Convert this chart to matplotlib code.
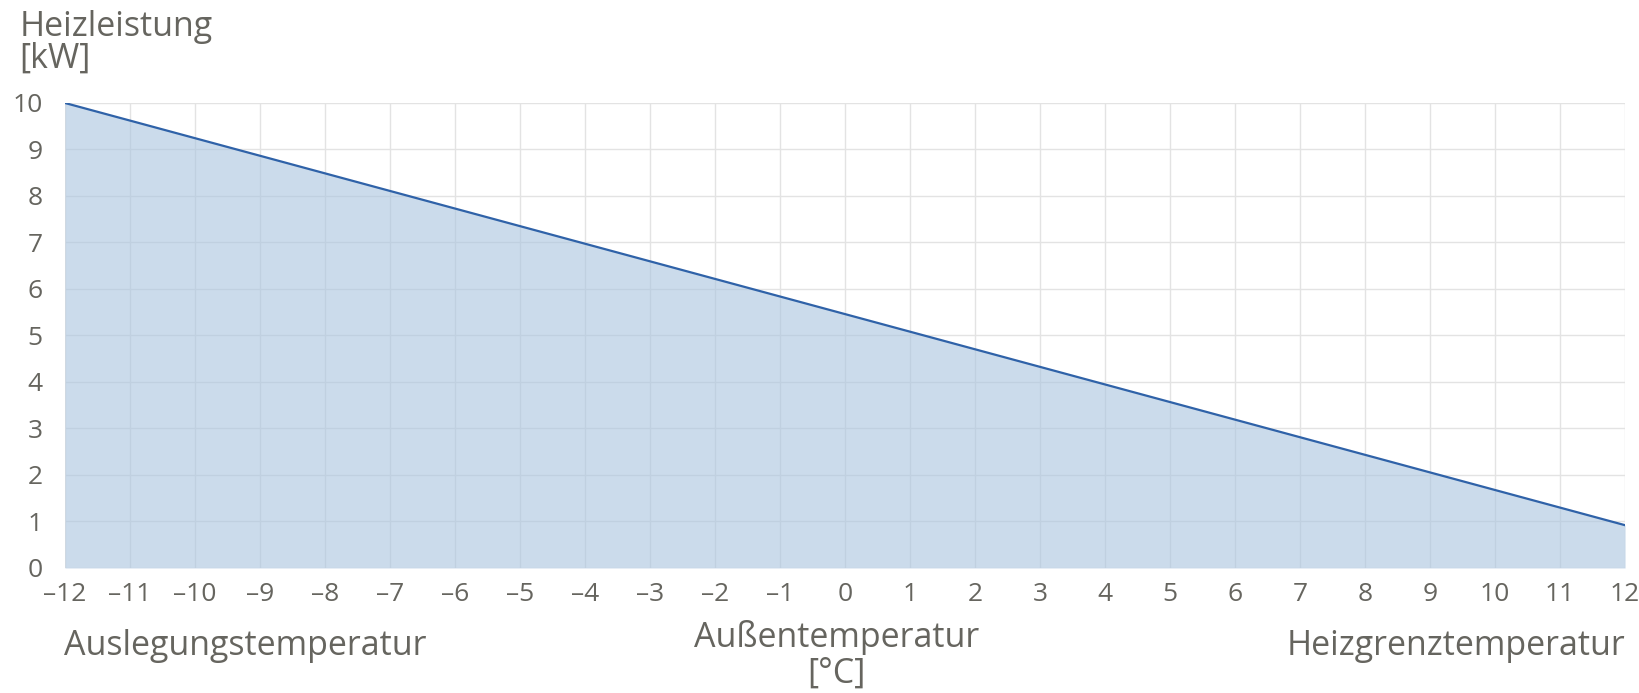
import matplotlib
matplotlib.use("Agg")
import matplotlib.pyplot as plt

plt.rcParams['font.family'] = ['Open Sans', 'DejaVu Sans']

# Heizleistung über Außentemperatur (lineare Heizkurve)
temps = [-12, 12]
power = [10.0, 0.92]
x_ticks = list(range(-12, 13))
y_ticks = list(range(0, 11))

text_color = '#66655f'
line_color = '#2f62a8'
fill_color = '#a9c4df'
grid_color = '#e3e3e3'

fig = plt.figure(figsize=(16.4, 6.93), dpi=100)
ax = fig.add_axes([0.0396, 0.1804, 0.9513, 0.671])

ax.fill_between(temps, power, 0, color=fill_color, alpha=0.6, lw=0, zorder=2)
ax.plot(temps, power, color=line_color, lw=1.6, zorder=3)

ax.set_xlim(-12, 12)
ax.set_ylim(0, 10)
ax.set_xticks(x_ticks)
ax.set_yticks(y_ticks)
ax.set_xticklabels([str(t).replace('-', '\u2013') for t in x_ticks])
ax.grid(True, color=grid_color, lw=1.0, zorder=1)
ax.set_axisbelow(True)
for s in ax.spines.values():
    s.set_visible(False)
ax.tick_params(axis='both', length=0, labelsize=19, colors=text_color)
ax.tick_params(axis='x', pad=10)
ax.tick_params(axis='y', pad=16)

fig.text(0.012, 0.985, 'Heizleistung\n[kW]', ha='left', va='top', fontsize=24.5,
         color=text_color, linespacing=0.9)
fig.text(0.039, 0.055, 'Auslegungstemperatur', ha='left', va='baseline',
         fontsize=24.5, color=text_color)
fig.text(0.510, 0.105, 'Außentemperatur\n[°C]', ha='center', va='top',
         fontsize=24.5, color=text_color, linespacing=1.05)
fig.text(0.991, 0.055, 'Heizgrenztemperatur', ha='right', va='baseline',
         fontsize=24.5, color=text_color)

fig.savefig('out.png', dpi=100)
